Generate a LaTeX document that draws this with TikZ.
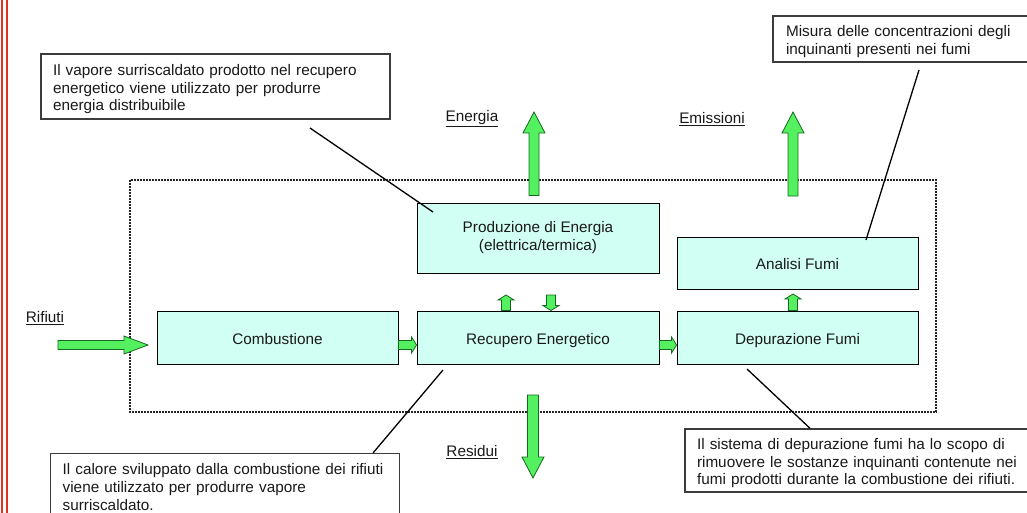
\documentclass[tikz,border=0pt]{standalone}
\usepackage{fontspec}
\setmainfont{Liberation Sans}
\usetikzlibrary{calc}
\definecolor{boxfill}{RGB}{210,255,243}
\definecolor{arrfill}{RGB}{84,240,96}
\definecolor{arrdraw}{RGB}{20,105,30}
\definecolor{redline}{RGB}{226,48,28}
\definecolor{calloutdraw}{RGB}{60,60,60}
\newcommand\blockarrow[5]{%
  \draw[barrow] let \p1=(#1),\p2=(#2),\n1={atan2(\y2-\y1,\x2-\x1)},\n2={veclen(\x2-\x1,\y2-\y1)-#5} in
    ($(\p1)+(\n1-90:#3)$) -- ($(\p1)+(\n1:\n2)+(\n1-90:#3)$) -- ($(\p1)+(\n1:\n2)+(\n1-90:#4)$) --
    (\p2) -- ($(\p1)+(\n1:\n2)+(\n1+90:#4)$) -- ($(\p1)+(\n1:\n2)+(\n1+90:#3)$) -- ($(\p1)+(\n1+90:#3)$) -- cycle;}
\newcommand\firststrut{\rule[-3.5pt]{0pt}{20pt}}
\begin{document}
\begin{tikzpicture}[x=1pt,y=1pt,
  every node/.style={font=\fontsize{15.3}{17.7}\selectfont, text=black!90},
  procbox/.style={draw=black, line width=0.9pt, fill=boxfill, inner sep=0pt, align=center,
    execute at begin node=\firststrut},
  callout/.style={draw=calloutdraw, line width=1.4pt, fill=white, inner xsep=12pt, inner ysep=0pt, align=left,
    execute at begin node=\firststrut},
  flowlabel/.style={inner sep=0pt},
  barrow/.style={fill=arrfill, draw=arrdraw, line width=0.8pt, line join=miter},
  leader/.style={draw=black, line width=1.3pt},
  system/.style={draw=black!85, line width=1.3pt, dash pattern=on 2pt off 1pt}]
\useasboundingbox (0,0) rectangle (1027,-513);
\clip (0,0) rectangle (1027,-513);
\fill[white] (0,0) rectangle (1027,-513);
% red margin lines
\draw[redline, line width=2pt] (1.5,0) -- (1.5,-513);
\draw[redline, line width=2pt] (6.5,0) -- (6.5,-513);
% system boundary
\draw[system] (130,-180) rectangle (936,-412);
% process boxes
\node[procbox, minimum width=241pt, minimum height=53pt] (comb) at (277.5,-337.5) {Combustione};
\node[procbox, minimum width=242pt, minimum height=53pt] (rec) at (538,-337.5) {Recupero Energetico};
\node[procbox, minimum width=241pt, minimum height=53pt] (dep) at (797.5,-337.5) {Depurazione Fumi};
\node[procbox, minimum width=242pt, minimum height=70pt] (prod) at (538,-238) {Produzione di Energia\\(elettrica/termica)};
\node[procbox, minimum width=241pt, minimum height=52pt] (ana) at (797.5,-263) {Analisi Fumi};
% callouts
\node[callout, minimum width=349pt, minimum height=65pt, text width=325pt] (c1) at (215.5,-86.5)
  {Il vapore surriscaldato prodotto nel recupero\\energetico viene utilizzato per produrre\\energia distribuibile};
\node[callout, minimum width=270pt, minimum height=46pt, text width=246pt, inner xsep=13pt] (c2) at (909,-39)
  {Misura delle concentrazioni degli\\inquinanti presenti nei fumi};
\node[callout, minimum width=360pt, minimum height=63pt, text width=336pt] (c3) at (865,-460.5)
  {Il sistema di depurazione fumi ha lo scopo di\\rimuovere le sostanze inquinanti contenute nei\\fumi prodotti durante la combustione dei rifiuti.};
\node[callout, anchor=north west, minimum width=349pt, text width=325pt, inner ysep=4.5pt] (c4) at (50,-453)
  {Il calore sviluppato dalla combustione dei rifiuti\\viene utilizzato per produrre vapore\\surriscaldato.\\[12pt]};
% flow labels
\node[flowlabel] (lrif) at (45,-318) {\underline{Rifiuti}};
\node[flowlabel] (len) at (472,-119) {\underline{Energia}};
\node[flowlabel] (lem) at (712,-119) {\underline{Emissioni}};
\node[flowlabel] (lres) at (472,-452) {\underline{Residui}};
% arrow end points
\coordinate (rifs) at (58,-345);
\coordinate (rift) at ([yshift=-7.5pt]comb.west -| 148,0);
\coordinate (ens) at ([yshift=7pt]prod.north -| 534,0);
\coordinate (ent) at (534,-112);
\coordinate (ems) at (793,-196);
\coordinate (emt) at (793,-112);
\coordinate (ress) at (533,-395);
\coordinate (rest) at (533,-478);
\coordinate (ups) at ([xshift=-32pt]rec.north);
\coordinate (upt) at (506,-295);
\coordinate (dns) at (551,-295);
\coordinate (dnt) at ([xshift=13pt]rec.north);
\coordinate (das) at ([xshift=-4.5pt]dep.north);
\coordinate (dat) at (793,-294);
% block arrows
\blockarrow{rifs}{rift}{4.5}{9}{24}
\blockarrow{ens}{ent}{5}{11}{21}
\blockarrow{ems}{emt}{5}{11}{21}
\blockarrow{ress}{rest}{5.5}{11}{21}
\blockarrow{[yshift=-7.5pt]comb.east}{[yshift=-7.5pt]rec.west}{4.5}{8}{5}
\blockarrow{[yshift=-7.5pt]rec.east}{[yshift=-7.5pt]dep.west}{4.5}{8}{5}
\blockarrow{ups}{upt}{4.5}{8}{5}
\blockarrow{dns}{dnt}{4.5}{8}{5}
\blockarrow{das}{dat}{4.5}{8}{5}
% leader lines
\coordinate (l1s) at (310,-128);
\coordinate (l1t) at (433,-212);
\coordinate (l2s) at (919,-70);
\coordinate (l2t) at (866,-240);
\coordinate (l3s) at (747,-369);
\coordinate (l4s) at (443,-370);
\draw[leader] (l1s) -- (l1t);
\draw[leader] (l2s) -- (l2t);
\draw[leader] (l3s) -- (c3.north -| 810,0);
\draw[leader] (l4s) -- (c4.north -| 373,0);
\end{tikzpicture}
\end{document}
